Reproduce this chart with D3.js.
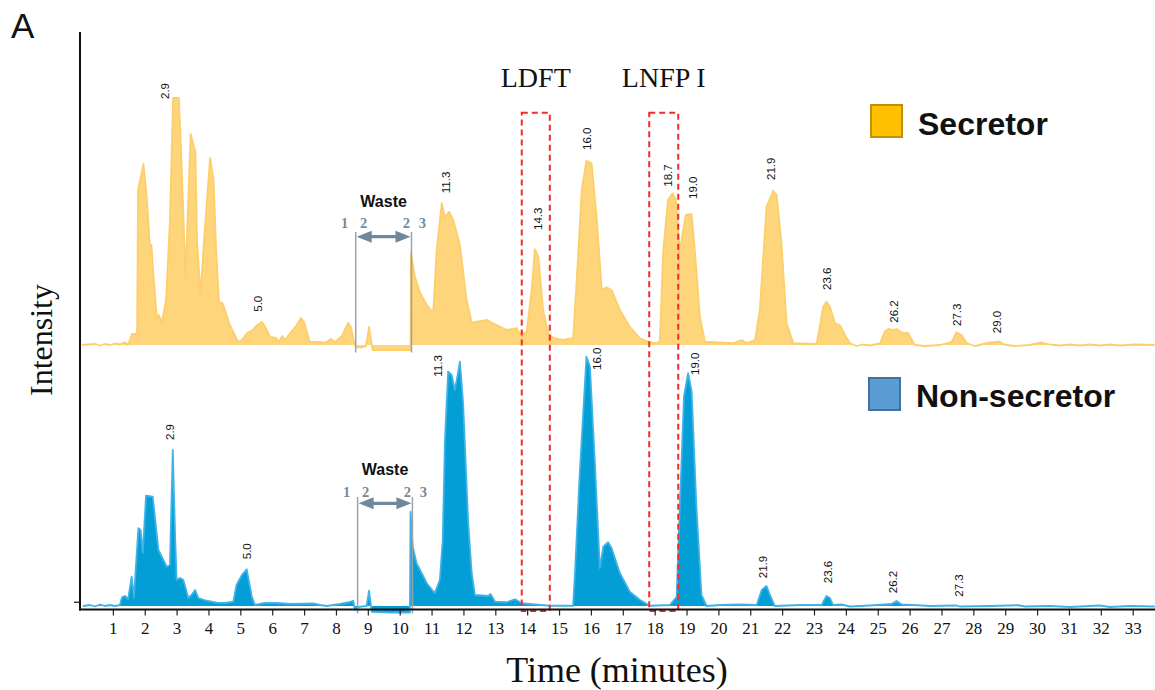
<!DOCTYPE html>
<html><head><meta charset="utf-8">
<script src="https://cdn.jsdelivr.net/npm/d3@7"></script>
<style>body{margin:0;background:#fff}svg{display:block}</style>
</head><body><svg id="c" width="1155" height="690"></svg>
<script>
// ---------- DATA ----------
const xTicks = d3.range(1, 34);
const seriesNames = ["Secretor", "Non-secretor"];

// [time (min), intensity (a.u.)]
const secretorTrace = [
[0.03,0],[0.44,0.4],[0.60,-0.2],[0.75,0.4],[0.91,0],[1.07,0.6],[1.22,0.2],[1.38,1.1],[1.47,0],[1.60,4.4],[1.76,4.4],
[1.79,62],[1.96,72.4],[2.07,58],[2.16,40],[2.21,40],[2.26,30],[2.38,10.8],[2.44,12],[2.54,9.2],[2.67,18],[2.79,50],
[2.89,98.8],[3.07,98.8],[3.14,78],[3.28,27.2],[3.44,84.4],[3.59,77.2],[3.64,42],[3.75,20],[3.86,42],[4.05,74.8],
[4.16,66],[4.24,38],[4.33,17.2],[4.44,16.8],[4.52,14],[4.67,8],[4.93,1.2],[5.05,2],[5.21,4.8],[5.40,6],[5.49,7.6],
[5.68,9.2],[5.80,6.8],[5.93,3.2],[6.12,2.8],[6.21,1.2],[6.31,3.6],[6.40,2],[6.59,5.2],[6.75,7.6],[6.90,10.8],[7.00,9.2],
[7.18,1.2],[7.50,1.2],[7.65,0.8],[7.84,2.4],[7.97,1.2],[8.19,3.6],[8.38,8.8],[8.47,7.2],[8.58,0.4],[8.63,-0.8],
[8.82,-1],[8.94,-0.4],[9.04,7.2],[9.10,2],[9.15,-2],[9.38,-2],[10.01,-2],[10.34,-2],[10.35,36.8],[10.48,27.2],
[10.64,20.8],[10.85,16],[11.05,12.8],[11.16,38],[11.32,56.8],[11.42,51.2],[11.55,53.3],[11.68,50],[11.89,40],
[12.10,18],[12.26,8.9],[12.73,10],[13.04,8],[13.36,6],[13.67,6.7],[13.75,4.9],[13.98,4.9],[14.14,22],[14.24,38.3],
[14.35,35.3],[14.50,14],[14.66,4.7],[14.82,2.7],[15.13,2],[15.44,2.7],[15.55,24.7],[15.71,62],[15.86,73.7],
[16.02,72.7],[16.18,51.3],[16.34,22],[16.49,23.1],[16.65,22],[16.91,14],[17.22,7.3],[17.54,2.7],[17.80,1.3],
[18.01,0.7],[18.16,1.3],[18.27,38],[18.42,58],[18.56,60.7],[18.67,58],[18.79,37.3],[18.88,44.7],[18.98,52],
[19.16,52.4],[19.26,38],[19.42,11.3],[19.58,1.3],[20.46,0.7],[20.73,2],[20.88,0.8],[21.15,2],[21.30,14],
[21.51,55.3],[21.72,61.7],[21.83,60],[21.98,40.7],[22.14,8.7],[22.35,0.7],[23.08,0.4],[23.18,7.3],[23.29,15.3],
[23.39,17.3],[23.50,15.3],[23.66,8.7],[23.81,8],[23.97,4],[24.13,0.7],[24.34,-0.4],[24.53,0.2],[24.75,-0.2],
[25.07,0.6],[25.22,5.3],[25.33,6.4],[25.47,6],[25.59,6.4],[25.80,4.7],[25.95,4.8],[26.16,0],[26.48,-0.4],[26.95,0],
[27.32,1.2],[27.47,5.1],[27.63,4],[27.79,0.7],[28.05,-0.4],[28.52,1],[28.83,1.3],[28.96,0.2],[29.30,-0.4],[29.77,0],
[30.14,1],[30.40,0.2],[30.71,-0.2],[31.03,0.2],[31.34,-0.2],[31.65,0.2],[31.97,-0.2],[32.28,0.2],[32.60,-0.2],
[33.07,0.2],[33.69,0]
];

const nonSecretorTrace = [
[0.06,0],[0.28,0.4],[0.44,-0.2],[0.60,0.6],[0.75,0],[0.91,0.4],[1.07,0],[1.22,0.4],[1.29,3.6],[1.38,4],[1.48,2.8],
[1.59,11.7],[1.66,3.2],[1.80,31.1],[1.87,30.4],[1.94,21.2],[2.04,44.1],[2.25,43.7],[2.43,22.4],[2.69,15.7],
[2.79,16.4],[2.88,62.4],[2.95,29.2],[3.00,10.4],[3.11,11.2],[3.21,10.4],[3.37,3.2],[3.47,4.4],[3.58,6.4],[3.68,3.2],
[3.94,2.1],[4.26,1.3],[4.52,1.2],[4.78,1.7],[4.88,8.4],[5.05,12.4],[5.20,14.7],[5.36,3.7],[5.46,0.4],[5.77,1.2],
[6.14,1.2],[6.56,0.8],[7.28,1],[7.50,0.4],[7.71,0],[8.13,0.8],[8.44,1.6],[8.54,2.1],[8.60,-1.6],[8.69,-0.4],
[8.96,0],[9.04,6.1],[9.12,-2.3],[9.69,-2.6],[10.32,-2.6],[10.34,37.7],[10.41,23.7],[10.53,17.1],[10.85,9.1],
[11.10,5.1],[11.26,10.4],[11.35,26.4],[11.42,66.4],[11.52,93.7],[11.63,92.4],[11.73,86.4],[11.81,91.7],[11.89,97.7],
[11.99,81.1],[12.15,33.1],[12.26,13.1],[12.36,4.4],[12.78,4],[12.85,4.8],[12.99,1.7],[13.36,1.5],[13.62,2.7],
[13.83,1.1],[14.24,0.6],[14.71,0.1],[15.44,0.1],[15.50,13.1],[15.65,53.1],[15.86,99.7],[15.97,95.7],[16.13,55.7],
[16.28,15.1],[16.39,23.7],[16.54,25.5],[16.65,23.1],[16.91,13.1],[17.22,5.7],[17.54,2.4],[17.85,0.1],[18.48,0.4],
[18.69,3.7],[18.79,39.7],[18.92,83.7],[19.05,93.1],[19.16,85.7],[19.31,39.7],[19.47,4.4],[19.63,0],[20.05,0.4],
[20.67,0.6],[21.20,0.4],[21.36,6.4],[21.51,8],[21.62,4.4],[21.77,0],[22.55,0.4],[23.24,0.4],[23.39,4],[23.50,3.2],
[23.60,0.4],[23.86,0.6],[24.13,-0.2],[24.75,0.2],[25.43,0.8],[25.59,2],[25.75,0.6],[26.11,0.4],[26.64,0],
[27.47,0.2],[27.57,-0.2],[28.52,0],[29.40,0.3],[29.62,-0.2],[30.40,0],[31.03,-0.4],[31.65,0],[31.97,0.2],
[32.28,-0.4],[32.91,0],[33.69,-0.2]
];

// peak labels: [label, time, intensity at label base]
const secretorLabels = [
["2.9",2.64,98.4],["5.0",5.56,13.3],["11.3",11.45,60.7],["14.3",14.35,46],["16.0",15.86,78],["18.7",18.42,63.3],
["19.0",19.19,58.4],["21.9",21.64,66],["23.6",23.39,22],["26.2",25.52,8.9],["27.3",27.47,7.6],["29.0",28.73,4.7]
];
const nonSecretorLabels = [
["2.9",2.79,66.4],["5.0",5.20,18.7],["11.3",11.21,91.7],["16.0",16.18,94.4],["19.0",19.26,92.4],
["21.9",21.41,11.1],["23.6",23.45,9.1],["26.2",25.48,5.1],["27.3",27.55,3.7]
];

// waste window (min) per panel
const wasteWindowTop = [8.62, 10.37];
const wasteWindowBottom = [8.68, 10.40];
const wasteNumbers = ["1","2","2","3"];

// highlighted compounds: [name, start, end]
const highlights = [["LDFT",13.83,14.71],["LNFP I",17.83,18.74]];

// ---------- DRAW ----------
const svg = d3.select("#c");
const x = d3.scaleLinear().domain([0, 33.7]).range([81, 1155]);
const yTop = d3.scaleLinear().domain([0, 100]).range([345, 95]);
const yBot = d3.scaleLinear().domain([0, 100]).range([606, 356]);
const SANS = "'Liberation Sans', Arial, sans-serif";
const SERIF = "'Liberation Serif', 'Times New Roman', serif";

function drawTrace(data, y, fill, stroke) {
  const area = d3.area().x(d => x(d[0])).y0(y(0)).y1(d => y(d[1]));
  const line = d3.line().x(d => x(d[0])).y(d => y(d[1]));
  svg.append("path").datum(data).attr("d", area).attr("fill", fill);
  svg.append("path").datum(data).attr("d", line).attr("fill", "none")
    .attr("stroke", stroke).attr("stroke-width", 1.8).attr("stroke-linejoin", "round");
}
drawTrace(secretorTrace, yTop, "#FED57B", "#FCCF6C");
drawTrace(nonSecretorTrace, yBot, "#039ED6", "#3FB2E6");

function drawLabels(labels, y) {
  svg.append("g").selectAll("text").data(labels).join("text")
    .attr("transform", d => `translate(${x(d[1])},${y(d[2])}) rotate(-90)`)
    .attr("dy", "0.36em").attr("font-family", SANS).attr("font-size", 11.5)
    .attr("fill", "#111").text(d => d[0]);
}
drawLabels(secretorLabels, yTop);
drawLabels(nonSecretorLabels, yBot);

// waste annotations
function drawWaste(win, y, lineTop, arrowY, numY, labelY) {
  const g = svg.append("g");
  const x1 = x(win[0]), x2 = x(win[1]);
  [x1, x2].forEach(xx => g.append("line").attr("x1", xx).attr("x2", xx)
    .attr("y1", lineTop).attr("y2", y(-2.6) + 1).attr("stroke", "#9BA2A8").attr("stroke-width", 1.5));
  const c = "#71889A", hl = 15, hh = 6, sw = 1.6;
  g.append("path").attr("fill", c).attr("d",
    `M${x1+1},${arrowY} L${x1+1+hl},${arrowY-hh} L${x1+1+hl},${arrowY-sw} L${x2-1-hl},${arrowY-sw} L${x2-1-hl},${arrowY-hh} L${x2-1},${arrowY} L${x2-1-hl},${arrowY+hh} L${x2-1-hl},${arrowY+sw} L${x1+1+hl},${arrowY+sw} L${x1+1+hl},${arrowY+hh} Z`);
  const nx = [x1 - 11, x1 + 8, x2 - 5, x2 + 11];
  g.selectAll("text.n").data(wasteNumbers).join("text").attr("class", "n")
    .attr("x", (d, i) => nx[i]).attr("y", numY).attr("text-anchor", "middle")
    .attr("font-family", SERIF).attr("font-weight", "bold").attr("font-size", 14.5).attr("fill", "#748B9C").text(d => d);
  g.append("text").attr("x", (x1 + x2) / 2).attr("y", labelY).attr("text-anchor", "middle")
    .attr("font-family", SANS).attr("font-weight", "bold").attr("font-size", 16).attr("fill", "#111").text("Waste");
}
drawWaste(wasteWindowTop, yTop, 232, 236.7, 228, 207);
drawWaste(wasteWindowBottom, yBot, 497, 503.3, 497, 475);

// highlight boxes
highlights.forEach(h => {
  svg.append("rect").attr("x", x(h[1])).attr("y", 112.7)
    .attr("width", x(h[2]) - x(h[1])).attr("height", 611 - 112.7)
    .attr("fill", "none").attr("stroke", "#F52A2A").attr("stroke-width", 2).attr("stroke-dasharray", "6,4");
  svg.append("text").attr("x", (x(h[1]) + x(h[2])) / 2).attr("y", 86.7).attr("text-anchor", "middle")
    .attr("font-family", SERIF).attr("font-size", 28).attr("fill", "#111").text(h[0]);
});

// axes
const xAxis = d3.axisBottom(x).tickValues(xTicks).tickSize(6).tickPadding(6).tickFormat(d3.format("d"));
const gx = svg.append("g").attr("transform", "translate(0,609.5)").call(xAxis);
gx.select(".domain").remove();
gx.append("line").attr("x1", 79).attr("x2", 1155).attr("stroke", "#111").attr("stroke-width", 2.2);
gx.selectAll(".tick line").attr("stroke", "#222").attr("stroke-width", 1.2);
gx.selectAll(".tick text").attr("font-family", SERIF).attr("font-size", 17).attr("fill", "#111");

svg.append("line").attr("x1", 80).attr("x2", 80).attr("y1", 32).attr("y2", 610.5)
  .attr("stroke", "#111").attr("stroke-width", 2);
svg.append("line").attr("x1", 74).attr("x2", 80).attr("y1", yBot(1.5)).attr("y2", yBot(1.5))
  .attr("stroke", "#111").attr("stroke-width", 1.2);

// titles
svg.append("text").attr("x", 617).attr("y", 682).attr("text-anchor", "middle")
  .attr("font-family", SERIF).attr("font-size", 36).attr("fill", "#111").text("Time (minutes)");
svg.append("text").attr("transform", "translate(52,340) rotate(-90)").attr("text-anchor", "middle")
  .attr("font-family", SERIF).attr("font-size", 32).attr("fill", "#111").text("Intensity");
svg.append("text").attr("x", 11).attr("y", 38.3).attr("font-family", SANS).attr("font-size", 35)
  .attr("fill", "#111").text("A");

// legends
const legend = [
  {name: seriesNames[0], fill: "#FFC000", stroke: "#BF9000", x: 871, y: 105, tx: 918, ty: 135},
  {name: seriesNames[1], fill: "#5B9BD5", stroke: "#41719C", x: 869, y: 378, tx: 916, ty: 406.5}
];
legend.forEach(l => {
  svg.append("rect").attr("x", l.x).attr("y", l.y).attr("width", 31).attr("height", 32)
    .attr("fill", l.fill).attr("stroke", l.stroke).attr("stroke-width", 2);
  svg.append("text").attr("x", l.tx).attr("y", l.ty).attr("font-family", SANS).attr("font-weight", "bold")
    .attr("font-size", 32).attr("fill", "#111").text(l.name);
});
</script></body></html>
